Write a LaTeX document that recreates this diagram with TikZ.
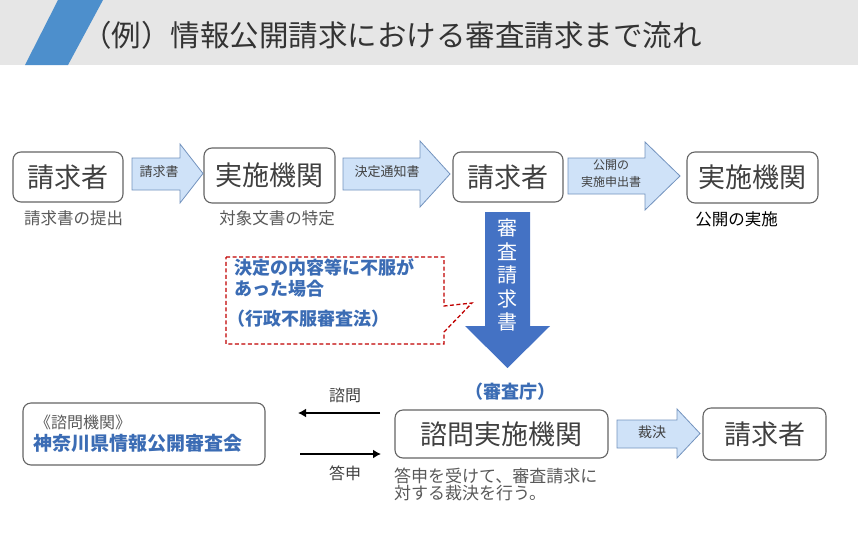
\documentclass[tikz,border=0pt]{standalone}
\usepackage{fontspec}
\setmainfont{Noto Sans CJK JP}
\usetikzlibrary{arrows.meta}

\definecolor{headgray}{HTML}{E6E6E6}
\definecolor{stripeblue}{HTML}{4D8FCC}
\definecolor{titlegray}{HTML}{333333}
\definecolor{boxline}{HTML}{646464}
\definecolor{textgray}{HTML}{404040}
\definecolor{subgray}{HTML}{595959}
\definecolor{arrowfill}{HTML}{CFE2F8}
\definecolor{arrowline}{HTML}{7393BE}
\definecolor{darkblue}{HTML}{4472C4}
\definecolor{bluetext}{HTML}{3B6CB4}
\definecolor{calloutred}{HTML}{C00000}

\tikzset{
  box/.style={draw=boxline, line width=1.1pt, rounded corners=8pt, inner sep=0pt,
    text=textgray, font=\fontsize{27}{30}\selectfont},
  sublabel/.style={text=subgray, inner sep=0pt, font=\fontsize{16.5}{18}\selectfont},
  blockarrow/.style={fill=arrowfill, draw=arrowline, line width=0.8pt},
  arrowlabel/.style={text=textgray, inner sep=0pt, align=center, font=\fontsize{13}{17}\selectfont},
  bluelabel/.style={text=bluetext, inner sep=0pt, font=\bfseries\fontsize{18}{20}\selectfont},
  callout/.style={draw=calloutred, line width=1.3pt, dash pattern=on 4pt off 2.5pt},
  thinarrow/.style={line width=2.3pt, -{Latex[length=8pt,width=9pt]}},
}

\begin{document}
\begin{tikzpicture}[x=1pt, y=-1pt]
  \useasboundingbox (0,0) rectangle (858,541);

  % header
  \fill[headgray] (0,0) rectangle (858,65);
  \fill[stripeblue] (25,65) -- (58,0) -- (103,0) -- (68,65) -- cycle;
  \node[anchor=west, inner sep=0pt, text=titlegray, font=\fontsize{29.5}{32}\selectfont] (title) at (82,35)
    {（例）情報公開請求における審査請求まで流れ};

  % first row
  \node[box, minimum width=110pt, minimum height=50pt] (req1) at (68,177) {請求者};
  \node[box, minimum width=131pt, minimum height=55pt] (exec1) at (269.5,175.5) {実施機関};
  \node[box, minimum width=110pt, minimum height=50pt] (req2) at (508,177) {請求者};
  \node[box, minimum width=131pt, minimum height=51pt] (exec2) at (752.5,177.5) {実施機関};

  \node[sublabel] (req1txt) at (73.5,218) {請求書の提出};
  \node[sublabel] (exec1txt) at (277,218) {対象文書の特定};
  \node[sublabel, text=black] (exec2txt) at (736.5,219) {公開の実施};

  \draw[blockarrow] (132,158) -- (180,158) -- (180,144) -- (203,173.5) -- (180,203) -- (180,190) -- (132,190) -- cycle;
  \node[arrowlabel] (arr1) at (159,172) {請求書};
  \draw[blockarrow] (343,158) -- (420,158) -- (420,141) -- (450,174) -- (420,207) -- (420,190) -- (343,190) -- cycle;
  \node[arrowlabel] (arr2) at (387,172) {決定通知書};
  \draw[blockarrow] (568,158) -- (645,158) -- (645,142) -- (680,176) -- (645,210) -- (645,194) -- (568,194) -- cycle;
  \node[arrowlabel, font=\fontsize{12}{17}\selectfont] (arr3) at (611,174) {公開の\\実施申出書};

  % review request
  \fill[darkblue] (485,212) -- (530,212) -- (530,326) -- (550,326) -- (507.5,368) -- (465,326) -- (485,326) -- cycle;
  \foreach \c [count=\i] in {審,査,請,求,書}
    \node[text=white, inner sep=0pt, font=\fontsize{20}{20}\selectfont] (rv\i) at (507.5,204.5+23.5*\i) {\c};

  \draw[callout] (226,257) -- (444,257) -- (444,306) -- (472,303) -- (444,332) -- (444,344) -- (226,344) -- cycle;
  \node[bluelabel, anchor=west] (why1) at (234,268) {決定の内容等に不服が};
  \node[bluelabel, anchor=west] (why2) at (234,289) {あった場合};
  \node[bluelabel, anchor=west] (why3) at (227,319) {（行政不服審査法）};

  \node[bluelabel] (agency) at (510,392) {（審査庁）};

  % bottom row
  \node[box, minimum width=242pt, minimum height=62pt] (council) at (144,434) {};
  \node[anchor=west, inner sep=0pt, text=subgray, font=\fontsize{16}{18}\selectfont] (counciltag) at (35,422) {《諮問機関》};
  \node[anchor=west, inner sep=0pt, text=bluetext, font=\bfseries\fontsize{19}{21}\selectfont] (councilname) at (33,443) {神奈川県情報公開審査会};

  \node[box, minimum width=213pt, minimum height=48pt] (consult) at (501.5,434) {諮問実施機関};
  \node[box, minimum width=123pt, minimum height=52pt] (req3) at (764.5,434) {請求者};

  \coordinate (ask1) at (380,413);
  \coordinate (ask2) at (298,413);
  \coordinate (ans1) at (300,454);
  \coordinate (ans2) at (381,454);
  \draw[thinarrow] (ask1) -- (ask2);
  \draw[thinarrow] (ans1) -- (ans2);
  \node[arrowlabel, font=\fontsize{16}{18}\selectfont] (asktxt) at (345,395) {諮問};
  \node[arrowlabel, font=\fontsize{16}{18}\selectfont] (anstxt) at (345,473) {答申};

  \node[anchor=north west, inner sep=0pt, text=subgray, align=left, font=\fontsize{17}{15.5}\selectfont] (consulttxt) at (394,468)
    {答申を受けて、審査請求に\\対する裁決を行う。};

  \draw[blockarrow] (617,420) -- (677,420) -- (677,409) -- (700,433.5) -- (677,458) -- (677,448) -- (617,448) -- cycle;
  \node[arrowlabel, font=\fontsize{14}{17}\selectfont] (arr4) at (652,432) {裁決};
\end{tikzpicture}
\end{document}
